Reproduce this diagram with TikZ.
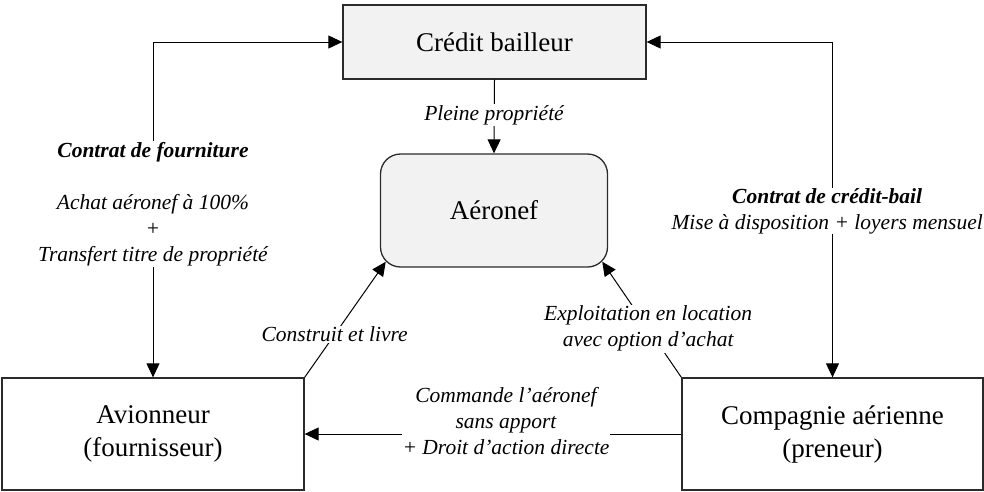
\documentclass[tikz,border=0pt]{standalone}
\usepackage{fontspec}
\setmainfont{Liberation Serif}
\usetikzlibrary{arrows.meta}
\definecolor{boxgray}{HTML}{F2F2F2}
\definecolor{edge}{HTML}{2B2B2B}
\begin{document}
\begin{tikzpicture}[x=1pt,y=-1pt,
  party/.style={draw=edge, line width=1.3pt, inner sep=0pt, align=center,
    font=\fontsize{27}{33}\selectfont},
  lbl/.style={fill=white, inner sep=1pt, align=center,
    font=\fontsize{21.5}{26}\selectfont\itshape},
  conn/.style={draw=black, line width=1pt},
  tip/.style={-{Triangle[length=14pt,width=13pt]}},
  tips/.style={{Triangle[length=14pt,width=13pt]}-{Triangle[length=14pt,width=13pt]}}]
\useasboundingbox (0,0) rectangle (984,491);

% the four parties and the aircraft
\node[party, fill=boxgray, minimum width=303pt, minimum height=74pt]
  (credit) at (494.5,42) {Crédit bailleur};
\node[party, fill=boxgray, rounded corners=20pt, minimum width=227pt, minimum height=113pt]
  (aer) at (494,210.5) {Aéronef};
\node[party, fill=white, minimum width=302pt, minimum height=112pt]
  (avion) at (153,434) {Avionneur\\(fournisseur)};
\node[party, fill=white, minimum width=301pt, minimum height=112pt]
  (comp) at (832.5,434) {Compagnie aérienne\\(preneur)};

% points on the rounded lower corners of the aircraft box
\coordinate (aerSW) at ([shift={(5.9,-5.9)}]aer.south west);
\coordinate (aerSE) at ([shift={(-5.9,-5.9)}]aer.south east);

% contracts with the lessor
\draw[conn, tips] (credit.west) -| (avion.north);
\draw[conn, tips] (credit.east) -| (comp.north);
\draw[conn, tip] (credit.south) -- (aer.north);

% relations around the aircraft
\draw[conn, tip] (avion.north east) -- node[lbl, pos=0.37] (lbuild) {Construit et livre} (aerSW);
\draw[conn, tip] (comp.north west) -- node[lbl, pos=0.42] (lrent) {Exploitation en location\\avec option d’achat} (aerSE);
\draw[conn, tip] (comp.west) -- (avion.east);

% labels set over the connectors
\node[lbl] (lsupply) at (153,204)
  {\textbf{Contrat de fourniture}\\[26pt]Achat aéronef à 100\%\\+\\Transfert titre de propriété};
\node[lbl, inner sep=0pt, anchor=east] (llease) at (983,211)
  {\textbf{Contrat de crédit-bail}\\Mise à disposition + loyers mensuel};
\node[lbl] (lown) at (494,115) {Pleine propriété};
\node[lbl] (lorder) at (506,421)
  {Commande l’aéronef\\sans apport\\+ Droit d’action directe};
\end{tikzpicture}
\end{document}
